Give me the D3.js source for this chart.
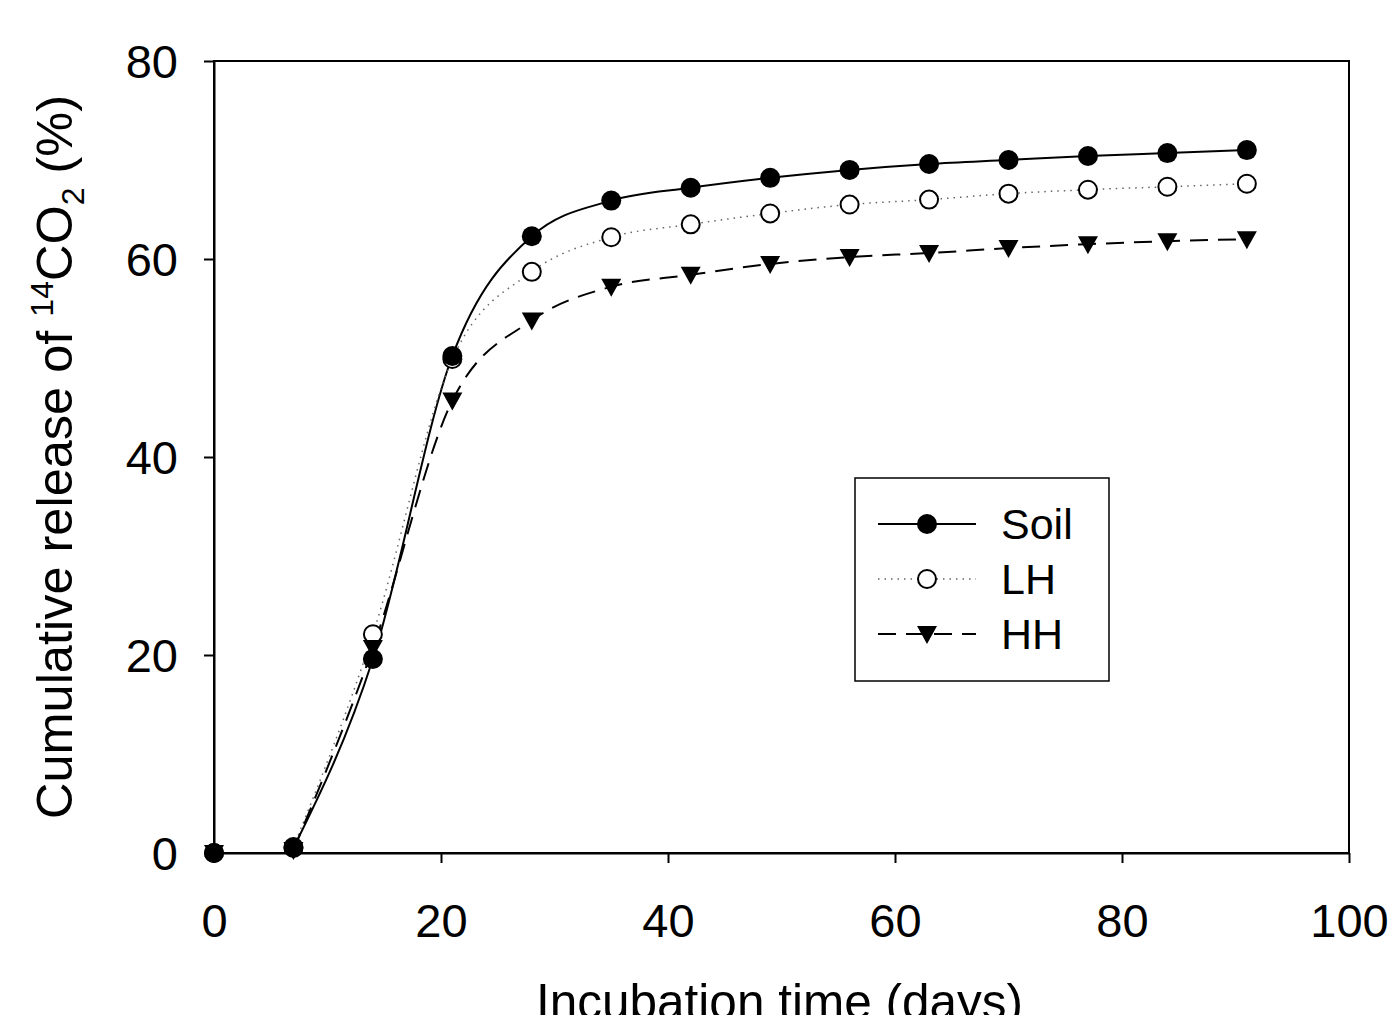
<!DOCTYPE html>
<html>
<head>
<meta charset="utf-8">
<script src="https://cdn.jsdelivr.net/npm/d3@7"></script>
<style>
html,body{margin:0;padding:0;background:#fff;}
svg{display:block;font-family:"Liberation Sans",Arial,sans-serif;}
</style>
</head>
<body>
<svg id="chart" width="1388" height="1015"></svg>
<script>
const days = [0, 7, 14, 21, 28, 35, 42, 49, 56, 63, 70, 77, 84, 91];
const soil = [0, 0.5, 19.6, 50.2, 62.3, 65.9, 67.2, 68.2, 69.0, 69.6, 70.0, 70.4, 70.7, 71.0];
const lh   = [0, 0.6, 22.1, 49.9, 58.7, 62.2, 63.5, 64.6, 65.5, 66.0, 66.6, 67.0, 67.3, 67.6];
const hh   = [0, 0.3, 20.7, 45.7, 53.8, 57.2, 58.4, 59.5, 60.2, 60.6, 61.1, 61.5, 61.8, 62.0];
const seriesNames = ["Soil", "LH", "HH"];
const xTicks = [0, 20, 40, 60, 80, 100];
const yTicks = [0, 20, 40, 60, 80];

const svg = d3.select("#chart");
const L = 214, R = 1349, T = 61, B = 853;
const x = d3.scaleLinear().domain([0, 100]).range([L, R]);
const y = d3.scaleLinear().domain([0, 80]).range([B, T]);

const series = [
  {name: seriesNames[0], vals: soil, marker: "filled", dash: null, color: "#000", width: 2},
  {name: seriesNames[1], vals: lh, marker: "open", dash: "1.5,5", color: "#666", width: 1.5},
  {name: seriesNames[2], vals: hh, marker: "tri", dash: "18,10", color: "#000", width: 2}
];

// frame
svg.append("rect").attr("x", L).attr("y", T).attr("width", R - L).attr("height", B - T)
  .attr("fill", "none").attr("stroke", "#000").attr("stroke-width", 2);

// axes
const xAxis = svg.append("g").attr("transform", `translate(0,${B})`)
  .call(d3.axisBottom(x).tickValues(xTicks).tickSize(10).tickSizeOuter(0).tickPadding(12));
const yAxis = svg.append("g").attr("transform", `translate(${L},0)`)
  .call(d3.axisLeft(y).tickValues(yTicks).tickSize(10).tickSizeOuter(0).tickPadding(26));
[xAxis, yAxis].forEach(a => {
  a.select(".domain").attr("stroke-width", 2);
  a.selectAll(".tick line").attr("stroke-width", 2);
  a.selectAll(".tick text").attr("font-size", 47).attr("fill", "#000")
    .attr("font-family", "'Liberation Sans', Arial, sans-serif");
});
xAxis.selectAll(".tick text").attr("dy", null).attr("y", 0)
  .attr("transform", "translate(0,84)");
yAxis.selectAll(".tick text").attr("dy", "0.35em");

// axis titles
svg.append("text").attr("x", (L + R) / 2 - 2).attr("y", 1019).attr("text-anchor", "middle")
  .attr("font-size", 49.5).text("Incubation time (days)");
const yt = svg.append("text").attr("transform", `translate(72,${(T + B) / 2}) rotate(-90)`)
  .attr("text-anchor", "middle").attr("font-size", 50.5);
yt.append("tspan").text("Cumulative release of  ");
yt.append("tspan").attr("font-size", 32).attr("dy", -19).text("14");
yt.append("tspan").attr("dy", 19).text("CO");
yt.append("tspan").attr("font-size", 32).attr("dy", 12).text("2");
yt.append("tspan").attr("dy", -12).text(" (%)");

// lines
const line = d3.line().x(d => x(d[0])).y(d => y(d[1])).curve(d3.curveMonotoneX);
series.forEach(s => {
  const pts = days.map((d, i) => [d, s.vals[i]]).filter(p => p[0] >= 7);
  svg.append("path").datum(pts).attr("d", line).attr("fill", "none")
    .attr("stroke", s.color).attr("stroke-width", s.width)
    .attr("stroke-dasharray", s.dash);
});

function drawMarker(g, kind, cx, cy) {
  if (kind === "filled") {
    g.append("circle").attr("cx", cx).attr("cy", cy).attr("r", 10).attr("fill", "#000");
  } else if (kind === "open") {
    g.append("circle").attr("cx", cx).attr("cy", cy).attr("r", 9).attr("fill", "#fff")
      .attr("stroke", "#000").attr("stroke-width", 2);
  } else {
    g.append("path").attr("d", `M${cx - 10},${cy - 8}L${cx + 10},${cy - 8}L${cx},${cy + 10}Z`)
      .attr("fill", "#000");
  }
}

// markers (draw order: LH, HH, Soil)
const mg = svg.append("g");
[series[1], series[2], series[0]].forEach(s => {
  days.forEach((d, i) => drawMarker(mg, s.marker, x(d), y(s.vals[i])));
});

// legend
const lg = svg.append("g");
lg.append("rect").attr("x", 855).attr("y", 478).attr("width", 254).attr("height", 203)
  .attr("fill", "#fff").attr("stroke", "#000").attr("stroke-width", 1.5);
const rowsY = [524, 579, 634];
series.forEach((s, i) => {
  const yy = rowsY[i];
  lg.append("line").attr("x1", 878).attr("x2", 976).attr("y1", yy).attr("y2", yy)
    .attr("stroke", s.color).attr("stroke-width", s.width).attr("stroke-dasharray", s.dash);
  drawMarker(lg, s.marker, 927, yy);
  lg.append("text").attr("x", 1001).attr("y", yy).attr("dy", "0.35em")
    .attr("font-size", 43).text(s.name);
});
</script>
</body>
</html>
